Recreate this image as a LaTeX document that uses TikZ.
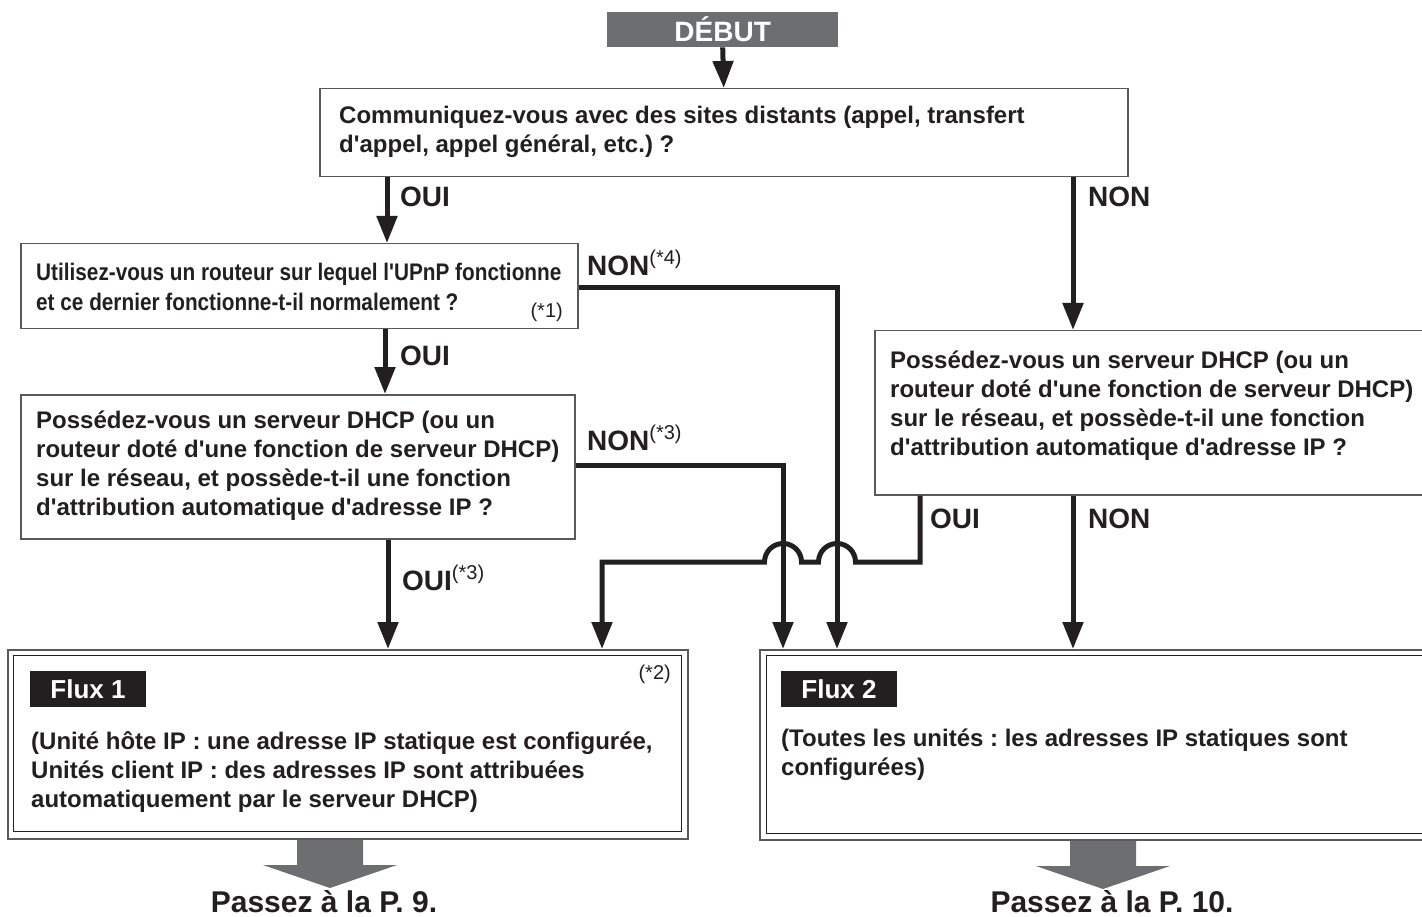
\documentclass[tikz,border=0pt]{standalone}
\usepackage{fontspec}
\setmainfont{Liberation Sans}[Ligatures=TeXOff]
\newfontfamily\condfont{Liberation Sans}[Ligatures=TeXOff,FakeStretch=0.865]
\usetikzlibrary{arrows.meta}
\definecolor{ink}{HTML}{231F20}
\definecolor{frame}{HTML}{58595B}
\definecolor{fillgray}{HTML}{6D6E71}
\frenchspacing
\begin{document}
\frenchspacing
\begin{tikzpicture}[x=1pt,y=-1pt,
  qbox/.style={draw=frame, line width=1.5pt, fill=white, rectangle, inner sep=0pt, anchor=north west},
  qtext/.style={anchor=west, align=left, inner sep=0pt, text=ink, font=\fontsize{24}{29}\selectfont\bfseries},
  lbl/.style={anchor=base west, inner sep=0pt, text=ink, font=\fontsize{28}{30}\selectfont\bfseries},
  note/.style={anchor=east, inner sep=0pt, text=ink, font=\fontsize{20}{22}\selectfont},
  flow/.style={draw=ink, line width=5pt, line join=miter, -{Triangle[width=20pt,length=27pt]}},
  fluxtag/.style={fill=ink, text=white, inner sep=0pt, minimum width=116pt, minimum height=36pt, font=\fontsize{26}{26}\selectfont\bfseries},
  outerframe/.style={draw=frame, line width=2pt, rectangle, inner sep=0pt, anchor=north west},
  innerframe/.style={draw=ink, line width=1.2pt, rectangle, inner sep=0pt, anchor=north west},
  bigarrow/.style={fill=fillgray},
  goto/.style={anchor=base, inner sep=0pt, text=ink, font=\fontsize{30}{32}\selectfont\bfseries}
]
\useasboundingbox (0,0) rectangle (1422,917);
\clip (0,0) rectangle (1422,917);
\fill[white] (0,0) rectangle (1422,917);

% start
\node[fill=fillgray, text=white, inner sep=0pt, minimum width=231pt, minimum height=35pt, anchor=north west,
      font=\fontsize{28}{28}\selectfont\bfseries] (start) at (607,12) {DÉBUT};

% question boxes
\node[qbox, minimum width=808pt, minimum height=88pt] (b1) at (319,88) {};
\node[qtext] (t1) at (339,132) {Communiquez-vous avec des sites distants (appel, transfert\\d'appel, appel général, etc.) ?};

\node[qbox, minimum width=557pt, minimum height=85pt] (b2) at (20,243) {};
\node[qtext, font=\fontsize{24}{30}\selectfont\condfont\bfseries] (t2) at (36,287) {Utilisez-vous un routeur sur lequel l'UPnP fonctionne\\et ce dernier fonctionne-t-il normalement ?};
\node[note] (n1) at (563,312) {(*1)};

\node[qbox, minimum width=554pt, minimum height=144pt] (b3) at (20,394) {};
\node[qtext] (t3) at (36,466) {Possédez-vous un serveur DHCP (ou un\\routeur doté d'une fonction de serveur DHCP)\\sur le réseau, et possède-t-il une fonction\\d'attribution automatique d'adresse IP ?};

\node[qbox, minimum width=570pt, minimum height=164pt] (b4) at (874,330) {};
\node[qtext] (t4) at (890,406) {Possédez-vous un serveur DHCP (ou un\\routeur doté d'une fonction de serveur DHCP)\\sur le réseau, et possède-t-il une fonction\\d'attribution automatique d'adresse IP ?};

% flux boxes
\node[outerframe, minimum width=680pt, minimum height=189pt] (f1) at (7,649) {};
\node[innerframe, minimum width=668pt, minimum height=176pt] (f1in) at (13,655) {};
\node[fluxtag] (tag1) at (88,689) {Flux 1};
\node[note] (n2) at (671,674) {(*2)};
\node[qtext] (tf1) at (31,772) {(Unité hôte IP : une adresse IP statique est configurée,\\Unités client IP : des adresses IP sont attribuées\\automatiquement par le serveur DHCP)};

\node[outerframe, minimum width=700pt, minimum height=190pt] (f2) at (759,649) {};
\node[innerframe, minimum width=690pt, minimum height=178pt] (f2in) at (766,655) {};
\node[fluxtag] (tag2) at (839,689) {Flux 2};
\node[qtext] (tf2) at (781,755) {(Toutes les unités : les adresses IP statiques sont\\configurées)};

% connectors
\draw[flow] (start.south) -- (b1.north);
\draw[flow] (b1.south -| 387,0) -- (b2.north -| 387,0);
\draw[flow] (b1.south -| 1073,0) -- (b4.north -| 1073,0);
\draw[flow] (b2.south -| 385,0) -- (b3.north -| 385,0);
\draw[flow] (b2.east |- 0,288) -- (837,288) -- (f2.north west -| 837,0);
\draw[flow] (b3.east |- 0,465) -- (783,465) -- (f2.north west -| 783,0);
\draw[flow] (b3.south -| 388,0) -- (f1.north -| 388,0);
\draw[flow] (b4.south west -| 920,0) -- (920,562) -- (855.5,562)
   arc[start angle=0, end angle=180, radius=18.5pt] -- (801.5,562)
   arc[start angle=0, end angle=180, radius=18.5pt] -- (602,562) -- (f1.north -| 602,0);
\draw[flow] (b4.south west -| 1073,0) -- (f2.north west -| 1073,0);

% labels
\node[lbl] (l1) at (400,207) {OUI};
\node[lbl] (l2) at (1088,207) {NON};
\node[lbl] (l3) at (587,276) {NON\raisebox{11pt}{\fontsize{20}{20}\selectfont\mdseries(*4)}};
\node[lbl] (l4) at (400,366) {OUI};
\node[lbl] (l5) at (587,450) {NON\raisebox{11pt}{\fontsize{20}{20}\selectfont\mdseries(*3)}};
\node[lbl] (l6) at (402,590) {OUI\raisebox{11pt}{\fontsize{20}{20}\selectfont\mdseries(*3)}};
\node[lbl] (l7) at (930,528) {OUI};
\node[lbl] (l8) at (1088,528) {NON};

% big arrows
\coordinate (a1) at (f1.south -| 330,0);
\coordinate (a2) at (f2.south -| 1103,0);
\fill[bigarrow] (a1) ++(-33,0) -- ++(66,0) -- ++(0,25) -- ++(34,0) -- ++(-67,23) -- ++(-67,-23) -- ++(34,0) -- cycle;
\fill[bigarrow] (a2) ++(-33,0) -- ++(66,0) -- ++(0,25) -- ++(34,0) -- ++(-67,23) -- ++(-67,-23) -- ++(34,0) -- cycle;
\node[goto] (p9) at (324,912) {Passez à la P. 9.};
\node[goto] (p10) at (1112,912) {Passez à la P. 10.};
\end{tikzpicture}
\end{document}
